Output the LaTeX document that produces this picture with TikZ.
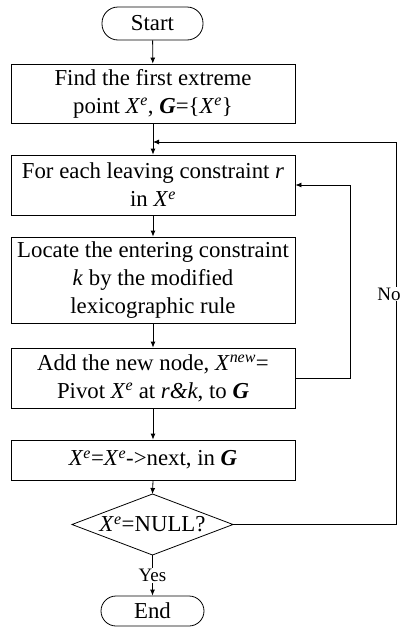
\documentclass[tikz,border=0pt]{standalone}
\usepackage{fontspec}
\setmainfont{Liberation Serif}
\usetikzlibrary{arrows.meta,calc}
\newcommand{\Xsup}[1]{\textit{X}\textsuperscript{\textit{#1}}}
\newcommand{\bG}{\textbf{\textit{G}}}
\begin{document}
\begin{tikzpicture}[x=1pt,y=1pt,
  line width=0.8pt,
  >={Latex[length=6pt,width=5pt]},
  procbox/.style={draw, minimum width=284pt, inner sep=0pt, align=center, font=\fontsize{22.8}{28}\selectfont},
  termbox/.style={draw, rounded corners=16pt, inner sep=0pt, align=center, font=\fontsize{22.8}{28}\selectfont},
  lbl/.style={fill=white, inner sep=1pt, font=\fontsize{19}{21}\selectfont}
]
\useasboundingbox (0,0) rectangle (403,-627);
\node[termbox, minimum width=101pt, minimum height=33pt] (start) at (152.5,-23.5) {Start};
\node[procbox, minimum height=59pt] (b1) at (153,-93.5) {Find the first extreme\\point \Xsup{e}, \bG=\{\Xsup{e}\}};
\node[procbox, minimum height=60pt] (b2) at (153,-185) {For each leaving constraint \textit{r}\\in \Xsup{e}};
\node[procbox, minimum height=86pt] (b3) at (153,-280) {Locate the entering constraint\\\textit{k} by the modified\\lexicographic rule};
\node[procbox, minimum height=60pt] (b4) at (153,-378) {Add the new node, \Xsup{new}=\\Pivot \Xsup{e} at \textit{r\&k}, to \bG};
\node[procbox, minimum height=40pt] (b5) at (153,-460) {\Xsup{e}=\Xsup{e}->next, in \bG};
\node[inner sep=0pt, font=\fontsize{22.8}{28}\selectfont] (dia) at (152.5,-524.5) {\Xsup{e}=NULL?};
\coordinate (dtop) at (152.5,-494);
\coordinate (dright) at (233,-524.5);
\coordinate (dbot) at (152.5,-555);
\coordinate (dleft) at (72,-524.5);
\draw (dtop) -- (dright) -- (dbot) -- (dleft) -- cycle;
\node[termbox, rounded corners=15pt, minimum width=103pt, minimum height=30pt] (end) at (152.5,-611) {End};
\coordinate (join) at (153,-142);
\coordinate (outer) at (396,-142);
\coordinate (nobot) at (396,-524.5);
\draw[->] (start) -- (b1);
\draw[->] (b1) -- (b2);
\draw[->] (b2) -- (b3);
\draw[->] (b3) -- (b4);
\draw[->] (b4) -- (b5);
\draw[->] (b5.south) -- (dtop);
\draw[->] (dbot) -- node[lbl] (yes) {Yes} (end.north);
\draw[->] (b4.east) -- ++(55,0) |- (b2.east);
\draw[->] (dright) -- (nobot) -- (outer) -- (join);
\node[lbl] (no) at (389,-294) {No};
\end{tikzpicture}
\end{document}
